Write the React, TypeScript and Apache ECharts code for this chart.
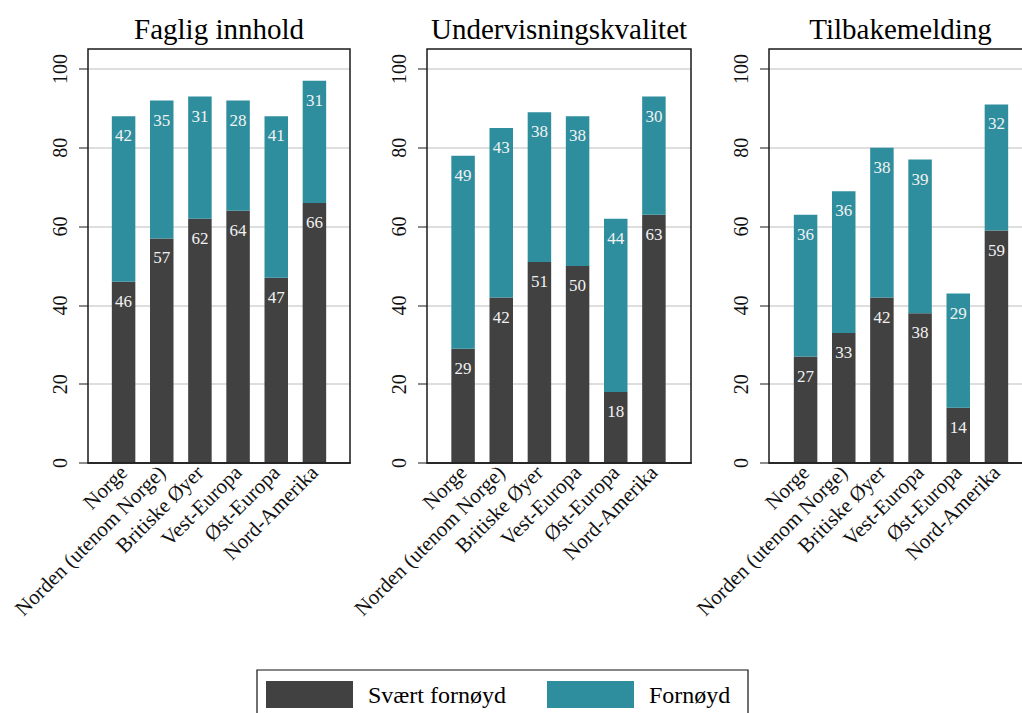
import React, { useEffect, useRef } from "react";
import * as echarts from "echarts";

const categories = [
  "Norge",
  "Norden (utenom Norge)",
  "Britiske Øyer",
  "Vest-Europa",
  "Øst-Europa",
  "Nord-Amerika",
];
const panelTitles = ["Faglig innhold", "Undervisningskvalitet", "Tilbakemelding"];
const seriesNames = ["Svært fornøyd", "Fornøyd"];

const faglig_svaert = [46, 57, 62, 64, 47, 66];
const faglig_fornoyd = [42, 35, 31, 28, 41, 31];
const underv_svaert = [29, 42, 51, 50, 18, 63];
const underv_fornoyd = [49, 43, 38, 38, 44, 30];
const tilbake_svaert = [27, 33, 42, 38, 14, 59];
const tilbake_fornoyd = [36, 36, 38, 39, 29, 32];

const yTicks = [0, 20, 40, 60, 80, 100];

const panelSvaert = [faglig_svaert, underv_svaert, tilbake_svaert];
const panelFornoyd = [faglig_fornoyd, underv_fornoyd, tilbake_fornoyd];

const DARK = "#414141";
const TEAL = "#2e8e9e";
const SERIF = "'Liberation Serif', 'DejaVu Serif', serif";

const W = 1022;
const H = 713;
const TOP100 = 69;
const BOTTOM0 = 463;
const FRAME_TOP = 49;

// frame [left, width], bar area [left, width]
const frames = [
  [88, 262],
  [427, 264],
  [769, 263],
];
const barAreas = [
  [104.5, 229],
  [444, 229],
  [786.5, 229],
];

export default function App() {
  const ref = useRef<HTMLDivElement>(null);

  useEffect(() => {
    document.body.style.margin = "0";
    if (!ref.current) return;
    const chart = echarts.init(ref.current, undefined, { renderer: "svg" });

    const grids: any[] = [];
    const xAxes: any[] = [];
    const yAxes: any[] = [];
    const series: any[] = [];
    const graphics: any[] = [];

    frames.forEach(([l, w], i) => {
      grids.push({ left: l, width: w, top: TOP100, height: BOTTOM0 - TOP100 });
      xAxes.push({
        type: "value",
        gridIndex: i,
        min: 0,
        max: 1,
        axisLine: { show: true, onZero: false, lineStyle: { color: "#555", width: 2 } },
        axisTick: { show: false },
        axisLabel: { show: false },
        splitLine: { show: false },
      });
      yAxes.push({
        type: "value",
        gridIndex: i,
        min: yTicks[0],
        max: yTicks[yTicks.length - 1],
        interval: yTicks[1] - yTicks[0],
        axisLine: { show: false },
        axisTick: { show: true, length: 9, lineStyle: { color: "#666", width: 1.5 } },
        axisLabel: {
          rotate: 90,
          margin: 18,
          fontSize: 20,
          fontFamily: SERIF,
          color: "#111",
        },
        splitLine: { show: true, lineStyle: { color: "#dedede", width: 2 } },
      });
      graphics.push({
        type: "rect",
        shape: { x: l, y: FRAME_TOP, width: w, height: BOTTOM0 - FRAME_TOP },
        style: { fill: "none", stroke: "#1a1a1a", lineWidth: 1.5 },
        z: 10,
      });
      graphics.push({
        type: "text",
        x: l + w / 2,
        y: 29,
        style: {
          text: panelTitles[i],
          font: `29px ${SERIF}`,
          fill: "#000",
          textAlign: "center",
          textVerticalAlign: "middle",
        },
      });
    });

    barAreas.forEach(([l, w], i) => {
      const gi = i + 3;
      grids.push({ left: l, width: w, top: TOP100, height: BOTTOM0 - TOP100 });
      xAxes.push({
        type: "category",
        gridIndex: gi,
        data: categories,
        axisLine: { show: false },
        axisTick: { show: false },
        axisLabel: {
          rotate: 45,
          interval: 0,
          margin: 6,
          fontSize: 21,
          fontFamily: SERIF,
          color: "#111",
        },
      });
      yAxes.push({
        type: "value",
        gridIndex: gi,
        min: 0,
        max: 100,
        show: false,
      });
      const label = {
        show: true,
        position: "insideTop",
        distance: 11,
        color: "#f2f2f2",
        fontSize: 17,
        fontFamily: SERIF,
      };
      series.push({
        name: seriesNames[0],
        type: "bar",
        xAxisIndex: gi,
        yAxisIndex: gi,
        stack: "p" + i,
        barWidth: 23.5,
        data: panelSvaert[i],
        itemStyle: { color: DARK },
        label,
      });
      series.push({
        name: seriesNames[1],
        type: "bar",
        xAxisIndex: gi,
        yAxisIndex: gi,
        stack: "p" + i,
        barWidth: 23.5,
        data: panelFornoyd[i],
        itemStyle: { color: TEAL },
        label,
      });
    });

    graphics.push({
      type: "rect",
      shape: { x: 257, y: 670, width: 491, height: 60 },
      style: { fill: "none", stroke: "#111", lineWidth: 1.2 },
    });

    chart.setOption({
      animation: false,
      backgroundColor: "#fff",
      grid: grids,
      xAxis: xAxes,
      yAxis: yAxes,
      series,
      graphic: graphics,
      legend: {
        data: seriesNames,
        left: 266,
        top: 681,
        padding: 0,
        itemWidth: 87,
        itemHeight: 27,
        itemGap: 41,
        icon: "rect",
        selectedMode: false,
        textStyle: {
          fontSize: 24,
          fontFamily: SERIF,
          color: "#000",
          padding: [0, 0, 0, 10],
        },
      },
    });

    return () => chart.dispose();
  }, []);

  return <div ref={ref} style={{ width: W, height: H }} />;
}
